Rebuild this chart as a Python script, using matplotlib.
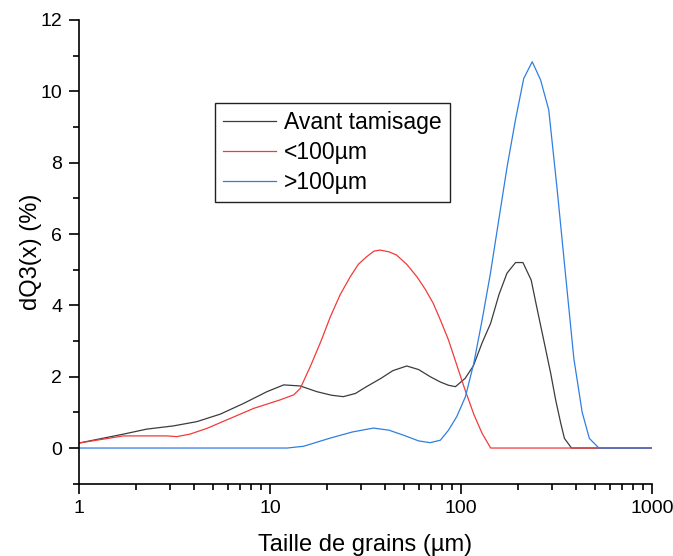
import matplotlib
matplotlib.use("Agg")
import matplotlib.pyplot as plt
from matplotlib.ticker import LogLocator, MultipleLocator, NullFormatter, FixedLocator

plt.rcParams['font.family'] = ['Liberation Sans', 'DejaVu Sans']

# Avant tamisage
x_avant = [1, 1.71, 2.26, 3.12, 4.14, 5.49, 7.27, 9.64, 11.8, 14.4, 17.6, 21, 24.2, 28, 32,
           38, 44, 52, 60, 69, 78, 86, 93.5, 105, 116, 129, 143, 158, 174, 193,
           211, 233, 249, 271, 295, 313, 333, 348, 379, 1000]
y_avant = [0.14, 0.39, 0.53, 0.62, 0.74, 0.95, 1.25, 1.58, 1.77, 1.74, 1.58, 1.48, 1.44, 1.53, 1.72,
           1.95, 2.17, 2.3, 2.2, 2.0, 1.85, 1.76, 1.72, 1.95, 2.3, 2.95, 3.5, 4.3, 4.9, 5.2,
           5.2, 4.71, 3.96, 3.03, 2.09, 1.35, 0.69, 0.27, 0.0, 0.0]

# <100 um
x_fin = [1, 1.71, 2.88, 3.25, 3.81, 4.67, 6.19, 8.2, 11.3, 13.3, 14.4, 16.3, 18.5, 20.7, 23.3,
         26.3, 29, 32, 35, 37.7, 42, 46, 52, 58.8, 65, 71.5, 78, 86, 95,
         105, 117, 129, 143, 1000]
y_fin = [0.14, 0.34, 0.34, 0.32, 0.39, 0.55, 0.83, 1.11, 1.35, 1.49, 1.67, 2.3, 3.0, 3.68, 4.3,
         4.8, 5.15, 5.36, 5.52, 5.55, 5.5, 5.41, 5.15, 4.8, 4.45, 4.06, 3.59, 3.03, 2.33,
         1.63, 0.93, 0.41, 0.0, 0.0]

# >100 um
x_gros = [1, 12.3, 15, 20.7, 27, 34.8, 42, 50, 60, 69, 78, 86, 95, 105.5, 116.6,
          129, 142.6, 157.6, 174.4, 192.8, 213, 236, 261, 288, 319, 352, 390, 431, 470,
          527, 1000]
y_gros = [0, 0, 0.05, 0.28, 0.45, 0.56, 0.5, 0.36, 0.2, 0.15, 0.22, 0.5, 0.88, 1.44, 2.37,
          3.59, 4.9, 6.39, 7.89, 9.2, 10.36, 10.83, 10.32, 9.48, 7.23, 4.9, 2.5, 1.0, 0.27,
          0.0, 0.0]

labels = ['Avant tamisage', '<100\u00b5m', '>100\u00b5m']

fig = plt.figure(figsize=(6.73, 5.56), dpi=100)
ax = fig.add_axes([79/673, 1-483.7/556, 573/673, 463.7/556])

ax.plot(x_avant, y_avant, color='#3c3c3c', lw=0.9, label=labels[0])
ax.plot(x_fin, y_fin, color='#f23a3a', lw=0.9, label=labels[1])
ax.plot(x_gros, y_gros, color='#2f7fe2', lw=0.9, label=labels[2])

ax.set_xscale('log')
ax.set_xlim(1, 1000)
ax.set_ylim(-1, 12)
ax.xaxis.set_major_locator(FixedLocator([1, 10, 100, 1000]))
ax.xaxis.set_major_formatter(plt.FuncFormatter(lambda v, p: '%d' % v))
ax.xaxis.set_minor_locator(LogLocator(base=10, subs=range(2, 10)))
ax.xaxis.set_minor_formatter(NullFormatter())
ax.yaxis.set_major_locator(MultipleLocator(2))
ax.yaxis.set_minor_locator(MultipleLocator(1))

for s in ['top', 'right']:
    ax.spines[s].set_visible(False)
for s in ['left', 'bottom']:
    ax.spines[s].set_linewidth(1.2)

ax.tick_params(which='major', direction='out', length=7, width=1.2, labelsize=14, pad=5)
ax.tick_params(which='minor', direction='out', length=4, width=1.2)

ax.set_xlabel('Taille de grains (\u00b5m)', fontsize=17, labelpad=12)
ax.set_ylabel('dQ3(x) (%)', fontsize=17, labelpad=-1)

leg = ax.legend(loc='upper left', bbox_to_anchor=(0.237, 0.821), borderaxespad=0,
                fontsize=16.5, handlelength=2.3, handletextpad=0.35, labelspacing=0.29,
                borderpad=0.36, fancybox=False, framealpha=1)
leg.get_frame().set_edgecolor('#222222')
leg.get_frame().set_linewidth(1.0)

fig.savefig('out.png', dpi=100)
